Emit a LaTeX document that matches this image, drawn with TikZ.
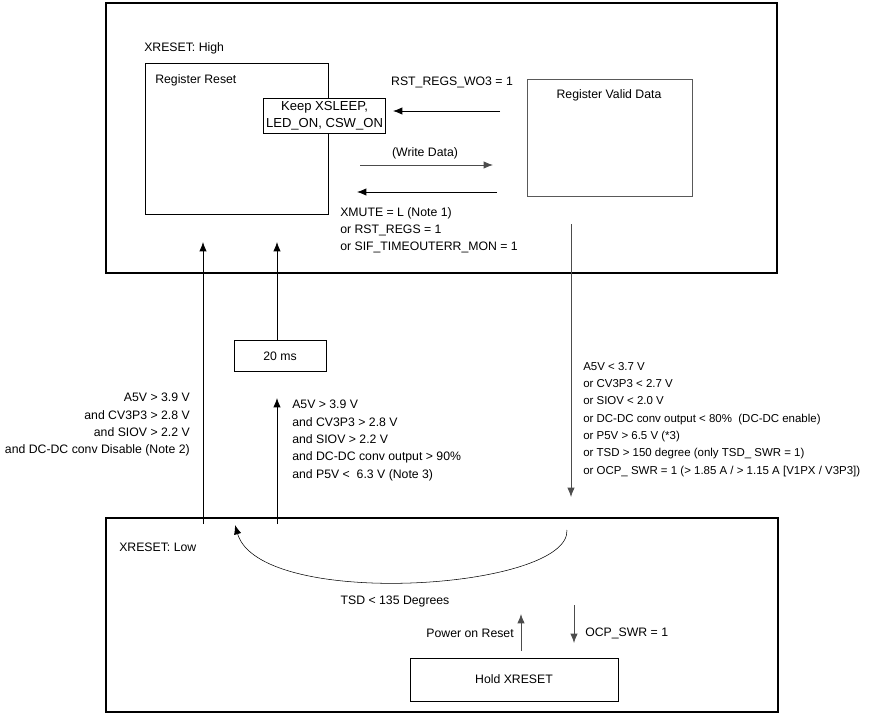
\documentclass[tikz,border=0pt]{standalone}
\usepackage{fontspec}
\setmainfont{Liberation Sans}
\usetikzlibrary{arrows.meta}
\begin{document}
\begin{tikzpicture}[x=0.75pt,y=-0.75pt,
  txt/.style={font=\fontsize{9.2}{13}\selectfont,inner sep=0pt},
  box/.style={draw,line width=0.6pt},
  outer/.style={draw,line width=1.2pt},
  arr/.style={-{Latex[length=7pt,width=5.5pt]},line width=0.6pt},
  gbox/.style={draw=black!65,line width=0.6pt}]
\useasboundingbox (0,0) rectangle (871,713);
% outer boxes
\node[outer,minimum width=671*0.75pt,minimum height=270*0.75pt,anchor=north west,inner sep=0] (high) at (105,2) {};
\node[outer,minimum width=672*0.75pt,minimum height=194*0.75pt,anchor=north west,inner sep=0] (low) at (105,517) {};
\node[txt,anchor=west] (hl) at (144,48) {XRESET: High};
\node[txt,anchor=west] (ll) at (119,547) {XRESET: Low};
% inner boxes
\node[box,minimum width=183*0.75pt,minimum height=151*0.75pt,anchor=north west,inner sep=0] (rr) at (145,63) {};
\node[txt,anchor=west] (rrl) at (155,80) {Register Reset};
\node[gbox,minimum width=165*0.75pt,minimum height=117*0.75pt,anchor=north west,inner sep=0] (rv) at (527,79) {};
\node[txt,anchor=center] (rvl) at (609,95) {Register Valid Data};
\node[box,fill=white,txt,font=\fontsize{9.8}{13}\selectfont,inner sep=2pt,align=center,minimum width=117*0.75pt,minimum height=35*0.75pt] (keep) at (324.5,115.5) {Keep XSLEEP,\\LED\_ON, CSW\_ON};
\node[box,txt,minimum width=92*0.75pt,minimum height=31*0.75pt] (ms) at (280,356) {20 ms};
\node[box,txt,minimum width=208*0.75pt,minimum height=43*0.75pt] (hold) at (514,679.5) {Hold XRESET};
% coordinates
\coordinate (a1s) at (500,111); \coordinate (a1e) at (393,111);
\coordinate (a2s) at (360,165); \coordinate (a2e) at (493,165);
\coordinate (a3s) at (497,192); \coordinate (a3e) at (357,192);
\coordinate (l1s) at (203,524); \coordinate (l1e) at (203,242);
\coordinate (m1e) at (277,242);
\coordinate (m2s) at (277,524); \coordinate (m2e) at (277,398);
\coordinate (r1s) at (571,224); \coordinate (r1e) at (571,497);
\coordinate (cs) at (567,530); \coordinate (ce) at (235,525);
\coordinate (p1s) at (521,651); \coordinate (p1e) at (521,614);
\coordinate (o1s) at (574,605); \coordinate (o1e) at (574,643);
% arrows
\draw[arr] (a1s) -- (a1e);
\draw[arr,draw=black!70] (a2s) -- (a2e);
\draw[arr] (a3s) -- (a3e);
\draw[arr] (l1s) -- (l1e);
\draw[arr] (ms.north -| m1e) -- (m1e);
\draw[arr] (m2s) -- (m2e);
\draw[arr,draw=black!70] (r1s) -- (r1e);
\draw[arr,line width=0.4pt] (cs) .. controls (570,590) and (260,610) .. (ce);
\draw[arr,draw=black!70] (p1s) -- (p1e);
\draw[arr,draw=black!70] (o1s) -- (o1e);
% labels
\node[txt,anchor=center] (t1) at (452,82) {RST\_REGS\_WO3 = 1};
\node[txt,anchor=center] (t2) at (425,153) {(Write Data)};
\node[txt,anchor=north west,align=left] (t3) at (340,207) {XMUTE = L (Note 1)\\or RST\_REGS = 1\\or SIF\_TIMEOUTERR\_MON = 1};
\node[txt,anchor=north east,align=right] (t4) at (190,393) {A5V > 3.9 V\\and CV3P3 > 2.8 V\\and SIOV > 2.2 V\\and DC-DC conv Disable (Note 2)};
\node[txt,anchor=north west,align=left] (t5) at (292,400) {A5V > 3.9 V\\and CV3P3 > 2.8 V\\and SIOV > 2.2 V\\and DC-DC conv output > 90\%\\and P5V < \ 6.3 V (Note 3)};
\node[txt,font=\fontsize{8.6}{13}\selectfont,anchor=north west,align=left] (t6) at (583,362) {A5V < 3.7 V\\or CV3P3 < 2.7 V\\or SIOV < 2.0 V\\or DC-DC conv output < 80\% \ (DC-DC enable)\\or P5V > 6.5 V (*3)\\or TSD > 150 degree (only TSD\_ SWR = 1)\\or OCP\_ SWR = 1 (> 1.85 A / > 1.15 A [V1PX / V3P3])};
\node[txt,anchor=center] (t7) at (395,601) {TSD < 135 Degrees};
\node[txt,anchor=east] (t8) at (514,633) {Power on Reset};
\node[txt,anchor=west] (t9) at (585,633) {OCP\_SWR = 1};
\end{tikzpicture}
\end{document}
